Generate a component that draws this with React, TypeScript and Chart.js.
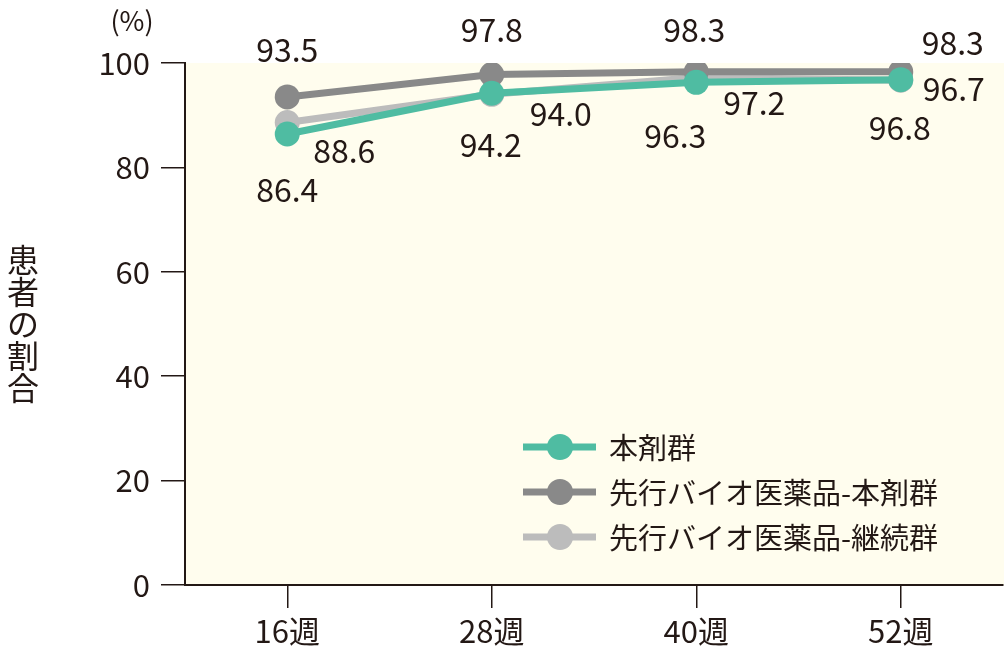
import { useRef, useEffect } from "react"
import { Chart, registerables } from "chart.js"

Chart.register(...registerables)

// weeks on the x axis
const weeks = ["16週", "28週", "40週", "52週"]

// series values (% of patients)
const honzai = [86.4, 94.2, 96.3, 96.8]
const senkoHonzai = [93.5, 97.8, 98.3, 98.3]
const senkoKeizoku = [88.6, 94.0, 97.2, 96.7]

const seriesNames = ["本剤群", "先行バイオ医薬品-本剤群", "先行バイオ医薬品-継続群"]
const yTicks = [0, 20, 40, 60, 80, 100]

// label offsets from each point, in px (per series, per week)
const labelOffsets: [number, number][][] = [
    [[0, 56], [-1, 52], [-21, 54], [-1, 48]],
    [[0, -47], [0, -45], [-2, -42], [52, -29]],
    [[57, 28], [69, 20], [58, 25], [53, 9]],
]

const TEXT = "#231815"
const FONT = '"Noto Sans CJK JP", "Noto Sans", sans-serif'
const COLORS = ["#4fbca2", "#898989", "#bcbcbc"]

const plotBg = {
    id: "plotBg",
    beforeDraw(chart: Chart) {
        const { ctx, chartArea } = chart
        ctx.save()
        ctx.fillStyle = "#fffdee"
        ctx.fillRect(chartArea.left, chartArea.top, chartArea.right - chartArea.left + 1, chartArea.bottom - chartArea.top)
        ctx.restore()
    },
}

const extras = {
    id: "extras",
    afterDatasetsDraw(chart: Chart) {
        const { ctx, chartArea } = chart
        ctx.save()
        ctx.fillStyle = TEXT

        // value labels
        ctx.font = `32px ${FONT}`
        ctx.textAlign = "center"
        ctx.textBaseline = "middle"
        chart.data.datasets.forEach((ds, i) => {
            const meta = chart.getDatasetMeta(i)
            meta.data.forEach((pt, j) => {
                const [dx, dy] = labelOffsets[i][j]
                ctx.fillText((ds.data[j] as number).toFixed(1), pt.x + dx, pt.y + dy)
            })
        })

        // legend (line + dot samples)
        const lx = chartArea.left + 338
        chart.data.datasets.forEach((ds, i) => {
            const y = 447 + i * 45
            const c = ds.borderColor as string
            ctx.strokeStyle = c
            ctx.lineWidth = 7
            ctx.beginPath()
            ctx.moveTo(lx, y)
            ctx.lineTo(lx + 73, y)
            ctx.stroke()
            ctx.fillStyle = c
            ctx.beginPath()
            ctx.arc(lx + 37, y, 13, 0, Math.PI * 2)
            ctx.fill()
            ctx.fillStyle = TEXT
            ctx.font = `29px ${FONT}`
            ctx.textAlign = "left"
            ctx.fillText(ds.label as string, lx + 86, y + 1)
        })

        // unit
        ctx.font = `27px ${FONT}`
        ctx.textAlign = "center"
        ctx.fillText("(%)", 132, 21)

        // vertical axis title, upright characters
        const title = "患者の割合"
        ctx.font = `32px ${FONT}`
        const cy = (chartArea.top + chartArea.bottom) / 2
        const step = 32
        for (let k = 0; k < title.length; k++) {
            ctx.fillText(title[k], 23, cy - ((title.length - 1) / 2) * step + k * step)
        }
        ctx.restore()
    },
}

export default function App() {
    const canvasRef = useRef<HTMLCanvasElement | null>(null)
    const chartRef = useRef<Chart | null>(null)

    useEffect(() => {
        document.body.style.margin = "0"
        if (!canvasRef.current) return
        if (chartRef.current) chartRef.current.destroy()

        const series = [honzai, senkoHonzai, senkoKeizoku]

        chartRef.current = new Chart(canvasRef.current, {
            type: "line",
            data: {
                labels: weeks,
                datasets: series.map((d, i) => ({
                    label: seriesNames[i],
                    data: d,
                    borderColor: COLORS[i],
                    backgroundColor: COLORS[i],
                    borderWidth: 7,
                    pointRadius: 12.5,
                    pointHoverRadius: 12.5,
                    pointBorderWidth: 0,
                    tension: 0,
                })),
            },
            options: {
                responsive: false,
                animation: false,
                layout: { autoPadding: false, padding: { top: 63, right: 1, left: 0, bottom: 0 } },
                plugins: {
                    legend: { display: false },
                    tooltip: { enabled: false },
                },
                scales: {
                    x: {
                        offset: true,
                        grid: {
                            offset: false,
                            drawOnChartArea: false,
                            tickLength: 23,
                            color: TEXT,
                            lineWidth: 1.5,
                        },
                        border: { display: true, color: TEXT, width: 2 },
                        ticks: { color: TEXT, font: { family: FONT, size: 31 }, padding: 5 },
                        afterFit: (scale) => {
                            scale.height = 61
                            scale.paddingLeft = 0
                            scale.paddingRight = 0
                        },
                    },
                    y: {
                        min: 0,
                        max: 100,
                        afterBuildTicks: (scale) => {
                            scale.ticks = yTicks.map((v) => ({ value: v }))
                        },
                        grid: {
                            drawOnChartArea: false,
                            tickLength: 24,
                            color: TEXT,
                            lineWidth: 1.5,
                        },
                        border: { display: true, color: TEXT, width: 2 },
                        ticks: { color: TEXT, font: { family: FONT, size: 31 }, padding: 11 },
                        afterFit: (scale) => {
                            scale.width = 185
                            scale.paddingTop = 0
                            scale.paddingBottom = 0
                        },
                    },
                },
            },
            plugins: [plotBg, extras],
        })

        return () => {
            if (chartRef.current) {
                chartRef.current.destroy()
                chartRef.current = null
            }
        }
    }, [])

    return (
        <div style={{ width: 1004, height: 646 }}>
            <canvas ref={canvasRef} width={1004} height={646} style={{ display: "block" }} />
        </div>
    )
}
